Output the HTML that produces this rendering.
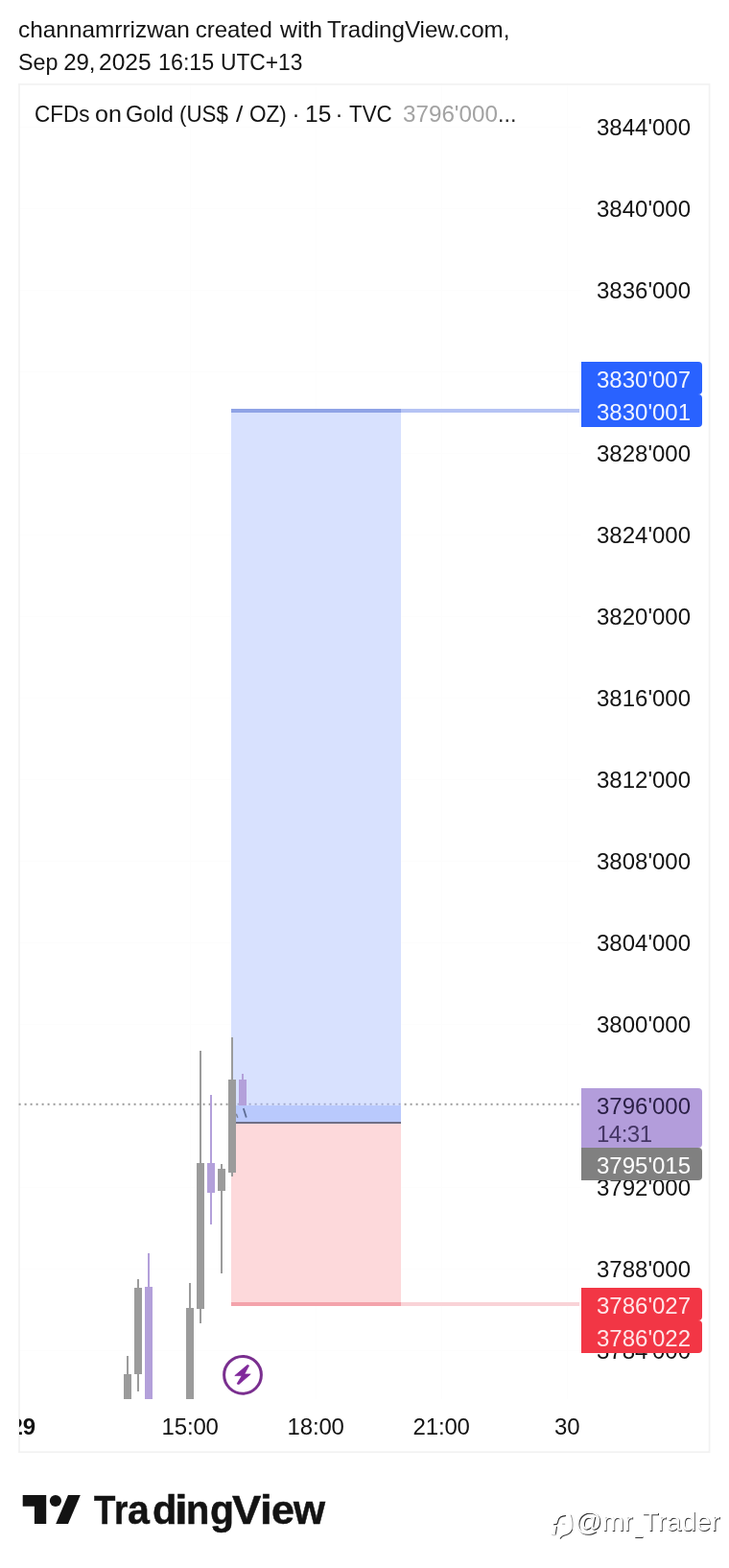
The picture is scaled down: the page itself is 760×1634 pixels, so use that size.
<!DOCTYPE html>
<html lang="en">
<head>
<meta charset="utf-8">
<title>CFDs on Gold (US$ / OZ) - TradingView</title>
<style>
*{margin:0;padding:0;box-sizing:border-box}
html,body{width:760px;height:1634px;background:#fff;overflow:hidden}
body{position:relative;font-family:"Liberation Sans",sans-serif;font-size:24px;color:#131313;-webkit-font-smoothing:antialiased}
.t{position:absolute;white-space:nowrap;line-height:24px;height:24px;transform-origin:0 50%}
#chart{position:absolute;left:0;top:0}
.pl{position:absolute;left:622px;width:98px;height:24px;line-height:24px;white-space:nowrap;color:#131313}
.tag{position:absolute;left:606px;width:126px;height:34px;border-radius:0 4px 4px 0;color:#fff}
.tag span{position:absolute;left:16px;top:6.5px;line-height:24px;white-space:nowrap}
.tl{position:absolute;top:1475px;height:24px;line-height:24px;white-space:nowrap}
.c{position:absolute}
#logo{position:absolute;left:0;top:0;font-size:42px;font-weight:700;color:#131313;-webkit-text-stroke:0.5px #131313}
#logo span{position:absolute;top:1552.75px;line-height:42px;height:42px;white-space:nowrap;transform-origin:0 0}
</style>
</head>
<body>
<div id="h1"><span class="t" style="left:19.43px;top:18.7px;transform:scaleX(1.016)">channamrrizwan</span><span class="t" style="left:203.74px;top:18.7px">created</span><span class="t" style="left:291.59px;top:18.7px;transform:scaleX(1.034)">with</span><span class="t" style="left:341.04px;top:18.7px;transform:scaleX(1.005)">TradingView.com,</span></div>
<div id="h2"><span class="t" style="left:19.1px;top:53px;transform:scaleX(0.972)">Sep</span><span class="t" style="left:66.18px;top:53px">29,</span><span class="t" style="left:103.45px;top:53px;transform:scaleX(1.024)">2025</span><span class="t" style="left:165.46px;top:53px;transform:scaleX(0.97)">16:15</span><span class="t" style="left:230.14px;top:53px;transform:scaleX(0.949)">UTC+13</span></div>
<svg id="chart" width="760" height="1634" viewBox="0 0 760 1634"><rect x="20" y="87.8" width="719.6" height="1425.4" fill="none" stroke="#f2f2f2" stroke-width="1.8"/><g stroke="#fdfdfd" stroke-width="1" shape-rendering="crispEdges"><line x1="198.5" y1="89" x2="198.5" y2="1458"/><line x1="329.5" y1="89" x2="329.5" y2="1458"/><line x1="460.5" y1="89" x2="460.5" y2="1458"/><line x1="591.5" y1="89" x2="591.5" y2="1458"/><line x1="21" y1="132.5" x2="606" y2="132.5"/><line x1="21" y1="217.5" x2="606" y2="217.5"/><line x1="21" y1="302.5" x2="606" y2="302.5"/><line x1="21" y1="387.5" x2="606" y2="387.5"/><line x1="21" y1="472.5" x2="606" y2="472.5"/><line x1="21" y1="557.5" x2="606" y2="557.5"/><line x1="21" y1="642.5" x2="606" y2="642.5"/><line x1="21" y1="727.5" x2="606" y2="727.5"/><line x1="21" y1="812.5" x2="606" y2="812.5"/><line x1="21" y1="897.5" x2="606" y2="897.5"/><line x1="21" y1="982.5" x2="606" y2="982.5"/><line x1="21" y1="1067.5" x2="606" y2="1067.5"/><line x1="21" y1="1152.5" x2="606" y2="1152.5"/><line x1="21" y1="1237.5" x2="606" y2="1237.5"/><line x1="21" y1="1322.5" x2="606" y2="1322.5"/><line x1="21" y1="1407.5" x2="606" y2="1407.5"/></g></svg>
<div id="ti"><span class="t" style="left:35.91px;top:106.5px;transform:scaleX(0.937)">CFDs</span><span class="t" style="left:98.6px;top:106.5px;transform:scaleX(1.044)">on</span><span class="t" style="left:131.37px;top:106.5px;transform:scaleX(0.982)">Gold</span><span class="t" style="left:187.18px;top:106.5px;transform:scaleX(0.93)">(US$</span><span class="t" style="left:245.8px;top:106.5px;transform:scaleX(1.1)">/</span><span class="t" style="left:260.48px;top:106.5px;transform:scaleX(0.94)">OZ)</span><span class="t" style="left:304.6px;top:106.5px">·</span><span class="t" style="left:318.15px;top:106.5px;transform:scaleX(1.024)">15</span><span class="t" style="left:349.6px;top:106.5px">·</span><span class="t" style="left:363.68px;top:106.5px;transform:scaleX(0.932)">TVC</span></div>
<div id="tv"><span class="t" style="left:419.55px;top:106.5px;transform:scaleX(1.009);color:#a3a3a3">3796'000</span><span class="t" style="left:518.66px;top:106.5px;transform:scaleX(0.968);color:#2a2a2a">...</span></div>

<!-- zones -->
<div class="c" id="zb" style="left:241px;top:428px;width:177px;height:742px;background:#d8e1fe"></div>
<div class="c" id="zb2" style="left:241px;top:1152px;width:177px;height:18px;background:#b9c9fd"></div>
<div class="c" id="zr" style="left:241px;top:1171px;width:177px;height:189px;background:#fdd9db"></div>
<div class="c" id="lb1" style="left:241px;top:426px;width:177px;height:4px;background:#8fa3e6"></div>
<div class="c" id="lb2" style="left:418px;top:426px;width:186px;height:4px;background:#b5c3f4"></div>
<div class="c" id="lr1" style="left:241px;top:1357px;width:177px;height:4px;background:#f3a3ab"></div>
<div class="c" id="lr2" style="left:418px;top:1357px;width:186px;height:4px;background:#f9d3d7"></div>
<div class="c" id="le" style="left:241px;top:1169px;width:177px;height:2px;background:#6f6f86"></div>

<svg class="c" id="cs" style="left:0;top:0" width="760" height="1634" viewBox="0 0 760 1634" shape-rendering="crispEdges">
<line x1="19.6" y1="1150.7" x2="241" y2="1150.7" stroke="#999" stroke-width="2" stroke-dasharray="2 4" shape-rendering="auto"/><line x1="241.6" y1="1150.6" x2="418" y2="1150.6" stroke="#8e97bd" stroke-opacity="0.8" stroke-width="1.8" stroke-dasharray="2 4" shape-rendering="auto"/><line x1="421.6" y1="1150.7" x2="606" y2="1150.7" stroke="#999" stroke-width="2" stroke-dasharray="2 4" shape-rendering="auto"/>
<path d="M253.8 1155 L256.8 1164.6" stroke="#5d6c93" stroke-width="1.8" fill="none" shape-rendering="auto"/>
<path d="M246.3 1160.8 L247.8 1164.8" stroke="#7f869c" stroke-width="1.5" fill="none" shape-rendering="auto"/>
<rect x="132" y="1413" width="2" height="45" fill="#9b9b9b"/>
<rect x="129" y="1432" width="8" height="26" fill="#9b9b9b"/>
<rect x="143" y="1333" width="2" height="117" fill="#9b9b9b"/>
<rect x="140" y="1342" width="8" height="90" fill="#9b9b9b"/>
<rect x="154" y="1306" width="2" height="152" fill="#b3a0da"/>
<rect x="151" y="1341" width="8" height="117" fill="#b3a0da"/>
<rect x="197" y="1337" width="2" height="121" fill="#9b9b9b"/>
<rect x="194" y="1363" width="8" height="95" fill="#9b9b9b"/>
<rect x="208" y="1095" width="2" height="284" fill="#9b9b9b"/>
<rect x="205" y="1212" width="8" height="152" fill="#9b9b9b"/>
<rect x="219" y="1141" width="2" height="135" fill="#b3a0da"/>
<rect x="216" y="1212" width="8" height="31" fill="#b3a0da"/>
<rect x="230" y="1213" width="2" height="114" fill="#9b9b9b"/>
<rect x="227" y="1218" width="8" height="23" fill="#9b9b9b"/>
<rect x="241" y="1081" width="2" height="145" fill="#9b9b9b"/>
<rect x="238" y="1125" width="8" height="97" fill="#9b9b9b"/>
<rect x="252" y="1119" width="2" height="33" fill="#b3a0da"/>
<rect x="249" y="1125" width="8" height="27" fill="#b3a0da"/>
</svg>
<svg class="c" id="bolt" style="left:228px;top:1408px" width="50" height="50" viewBox="228 1408 50 50">
<circle cx="253" cy="1432.8" r="19.4" fill="none" stroke="#7a2f8f" stroke-width="3"/>
<path d="M257.9 1422.5 L259.6 1423 L254.8 1432 L261.2 1432 L249 1442.6 L247.1 1442 L252.2 1433.6 L244.8 1433.6 Z" fill="#80299b" stroke="#80299b" stroke-width="0.8" stroke-linejoin="round"/>
</svg>
<svg class="c" id="tvl" style="left:23px;top:1557px" width="62" height="32" viewBox="23 1557 62 32">
<path d="M23.7 1558 H48.2 V1588 H35.9 V1569.8 H23.7 Z" fill="#131313"/>
<circle cx="57.9" cy="1564" r="6.1" fill="#131313"/>
<path d="M71 1558 H83.8 L71 1588 H58.2 Z" fill="#131313"/>
</svg>
<!-- price scale -->
<div class="pl" style="top:121px">3844'000</div>
<div class="pl" style="top:206px">3840'000</div>
<div class="pl" style="top:291px">3836'000</div>
<div class="pl" style="top:461px">3828'000</div>
<div class="pl" style="top:546px">3824'000</div>
<div class="pl" style="top:631px">3820'000</div>
<div class="pl" style="top:716px">3816'000</div>
<div class="pl" style="top:801px">3812'000</div>
<div class="pl" style="top:886px">3808'000</div>
<div class="pl" style="top:971px">3804'000</div>
<div class="pl" style="top:1056px">3800'000</div>
<div class="pl" style="top:1226px">3792'000</div>
<div class="pl" style="top:1311px">3788'000</div>
<div class="pl" style="top:1396px">3784'000</div>

<!-- tags -->
<div class="tag" style="top:377px;background:#2962ff;color:#f1f4ff"><span>3830'007</span></div>
<div class="tag" style="top:411px;background:#2962ff;color:#f1f4ff"><span>3830'001</span></div>
<div class="tag" style="top:1134px;height:62px;background:#b39ddb;color:#2a1f45"><span>3796'000</span><span style="top:35.5px;color:#453665;letter-spacing:-0.5px">14:31</span></div>
<div class="tag" style="top:1196px;background:#808080"><span>3795'015</span></div>
<div class="tag" style="top:1342px;background:#f23645;color:#fee6e8"><span>3786'027</span></div>
<div class="tag" style="top:1376px;background:#f23645;color:#fee6e8"><span>3786'022</span></div>

<!-- time axis -->
<div id="taxis" style="position:absolute;left:20px;top:0;width:720px;height:1634px;overflow:hidden">
<div class="tl" style="left:-9.5px;font-weight:700">29</div>
<div class="tl" style="left:148.5px;letter-spacing:-0.15px">15:00</div>
<div class="tl" style="left:279.5px;letter-spacing:-0.15px">18:00</div>
<div class="tl" style="left:410.5px;letter-spacing:-0.15px">21:00</div>
<div class="tl" style="left:558px">30</div>
</div>

<div id="logo"><span style="left:98.02px;transform:scaleX(0.872)">T</span><span style="left:118.66px;transform:scaleX(0.878)">r</span><span style="left:132.57px;transform:scaleX(0.978)">a</span><span style="left:158.94px;transform:scaleX(0.989)">d</span><span style="left:182.4px;transform:scaleX(1.172)">i</span><span style="left:193.69px;transform:scaleX(0.948)">n</span><span style="left:219.06px;transform:scaleX(0.975)">g</span><span style="left:242.19px;transform:scaleX(1.079)">V</span><span style="left:271.11px;transform:scaleX(1.092)">i</span><span style="left:283.32px;transform:scaleX(1.026)">e</span><span style="left:306.38px;transform:scaleX(1.011)">w</span></div>
<svg class="c" id="wmi" style="left:570px;top:1572px" width="34" height="36" viewBox="570 1572 34 36" fill="none" stroke-linecap="round" stroke-linejoin="round">
<path d="M577.5 1588.8 L580.4 1588.4 C581.6 1588 581.6 1586.4 582 1584.6 C582.6 1581.6 584.6 1579.8 589.6 1579.6" stroke="#2b2b2b" stroke-width="1.1"/>
<path d="M595.4 1579.1 C597.4 1584 597.6 1590.6 596.4 1594.4" stroke="#8a8a8a" stroke-width="0.9"/>
<path d="M596.4 1594.4 C595 1598 591.6 1599.6 588 1600.3 C586.2 1600.7 585.2 1602 584.3 1603.2" stroke="#2b2b2b" stroke-width="1.1"/>
<path d="M580.5 1591.2 L579.3 1599 " stroke="#3a3a3a" stroke-width="1.1"/>
<path d="M579.3 1599 C578.8 1600.4 577.4 1600.2 575.6 1599.3" stroke="#b5b5b5" stroke-width="1"/>
<path d="M586.6 1588.2 H588.8" stroke="#9a9a9a" stroke-width="1"/>
</svg>
<div id="wm" style="position:absolute;left:0;top:0;font-size:28px;color:#fff;text-shadow:0.9px 0.9px 0.5px rgba(0,0,0,0.8)"><span class="t" style="left:599.3px;top:1571.8px;line-height:28px;height:28px;letter-spacing:-0.3px">@mr</span><span class="t" style="left:662px;top:1572.5px;line-height:28px;height:28px;transform:scaleX(0.5);transform-origin:0 50%">_</span><span class="t" style="left:669.5px;top:1571.8px;line-height:28px;height:28px;letter-spacing:-0.1px">Trader</span></div>
</body>
</html>
